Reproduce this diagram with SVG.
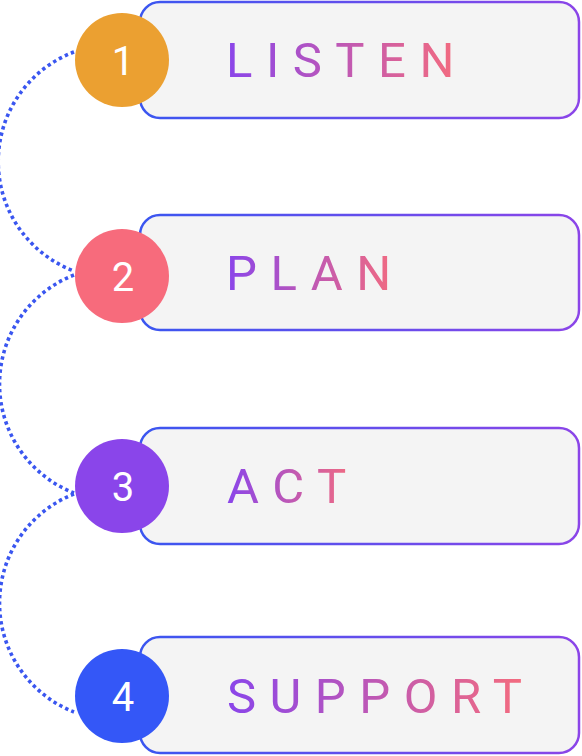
<svg xmlns="http://www.w3.org/2000/svg" width="582" height="756" viewBox="0 0 582 756">
<defs>
<linearGradient id="boxStroke" x1="0" y1="0" x2="1" y2="0">
<stop offset="0" stop-color="#3a56f0"/>
<stop offset="1" stop-color="#8b45e8"/>
</linearGradient>
<linearGradient id="textGrad" x1="0" y1="0" x2="1" y2="0">
<stop offset="0" stop-color="#8a45ea"/>
<stop offset="1" stop-color="#f86d7a"/>
</linearGradient>
</defs>
<style>
.box{fill:#f4f4f4;stroke:url(#boxStroke);stroke-width:2.5}
.num{font-family:Roboto,"Liberation Sans",sans-serif;font-size:40px;fill:#ffffff;text-anchor:middle}
.label{font-family:Roboto,"Liberation Sans",sans-serif;font-size:49px;fill:url(#textGrad);letter-spacing:13.5px}
.dots{fill:none;stroke:#3a56f0;stroke-width:3.6;stroke-dasharray:3.4 3.2}
</style>
<g id="connectors">
<path class="dots" d="M74,52 A117,117 0 0 0 74,271"/>
<path class="dots" d="M74,275 A117,117 0 0 0 74,493"/>
<path class="dots" d="M74,494 A117,117 0 0 0 74,712"/>
</g>
<g id="node1">
<rect class="box" x="140" y="2" width="439" height="116" rx="20"/>
<circle cx="122" cy="60" r="47" fill="#eba031"/>
<text class="num" x="123" y="75">1</text>
<text class="label" x="226" y="77">LISTEN</text>
</g>
<g id="node2">
<rect class="box" x="140" y="215" width="439" height="115" rx="20"/>
<circle cx="122" cy="276" r="47" fill="#f76b7c"/>
<text class="num" x="123" y="291">2</text>
<text class="label" x="226" y="290">PLAN</text>
</g>
<g id="node3">
<rect class="box" x="140" y="428" width="439" height="116" rx="20"/>
<circle cx="122" cy="486" r="47" fill="#8a45ea"/>
<text class="num" x="123" y="501">3</text>
<text class="label" x="227" y="503">ACT</text>
</g>
<g id="node4">
<rect class="box" x="140" y="637" width="439" height="116" rx="20"/>
<circle cx="122" cy="696" r="47" fill="#3457f7"/>
<text class="num" x="123" y="711">4</text>
<text class="label" x="227" y="713">SUPPORT</text>
</g>
</svg>
